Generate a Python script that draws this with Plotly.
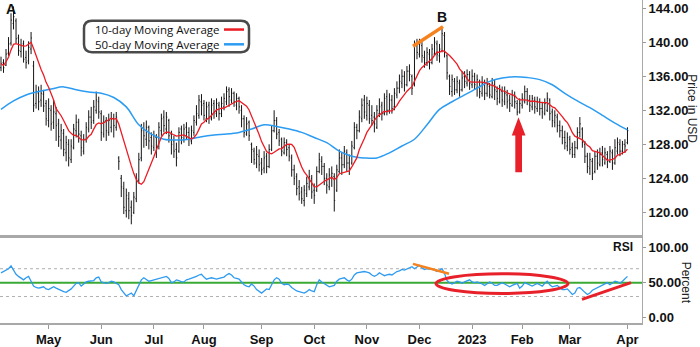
import pandas as pd
import plotly.graph_objects as go

# ---- trading calendar (NYSE holidays removed) ----
holidays = ["2022-04-15", "2022-05-30", "2022-06-20", "2022-07-04", "2022-09-05",
            "2022-11-24", "2022-12-26", "2023-01-02", "2023-01-16", "2023-02-20"]
days = pd.bdate_range("2022-04-04", "2023-04-03")
days = days[~days.isin(pd.to_datetime(holidays))]
dates = [d.strftime("%Y-%m-%d") for d in days]

# ---- daily price bars ----
opens = [
    137.0, 137.6, 137.3, 138.7, 139.9, 142.2, 142.5, 140.5, 138.9, 139.8,
    138.2, 137.8, 139.2, 137.2, 132.8, 134.0, 133.2, 133.9, 132.8, 130.8,
    132.0, 130.6, 131.6, 130.4, 128.5, 129.3, 127.0, 128.0, 126.2, 127.6,
    129.6, 130.6, 129.0, 127.2, 128.6, 129.8, 131.2, 130.8, 132.0, 133.0,
    131.6, 129.2, 130.8, 129.4, 130.0, 131.0, 130.0, 126.4, 124.0, 122.8,
    120.2, 121.6, 120.6, 120.0, 121.6, 123.8, 126.4, 129.8, 128.6, 130.0,
    128.8, 127.6, 128.8, 127.8, 129.6, 131.2, 129.8, 130.8, 129.2, 128.4,
    127.4, 127.2, 129.8, 128.6, 130.0, 129.4, 128.4, 129.4, 130.6, 131.4,
    133.0, 132.8, 131.0, 132.6, 131.0, 132.8, 131.6, 132.6, 131.6, 132.4,
    133.0, 134.4, 133.2, 134.0, 132.6, 133.4, 132.0, 131.0, 129.2, 130.6,
    128.0, 127.2, 125.8, 126.6, 125.8, 125.2, 126.6, 125.4, 127.4, 129.6,
    130.8, 129.4, 128.6, 127.0, 128.2, 127.6, 126.4, 125.0, 124.2, 123.0,
    122.4, 121.4, 122.2, 123.0, 124.0, 122.6, 122.6, 124.8, 126.0, 125.4,
    124.0, 123.0, 124.2, 124.2, 122.6, 124.8, 126.4, 125.6, 127.0, 125.8,
    125.8, 127.6, 130.0, 129.6, 131.0, 133.2, 131.4, 132.6, 131.4, 131.2,
    130.0, 131.6, 132.6, 131.6, 133.6, 132.0, 133.2, 132.4, 133.8, 134.6,
    135.2, 136.0, 135.0, 136.6, 136.0, 135.0, 139.6, 138.6, 139.6, 138.2,
    137.6, 138.6, 137.6, 138.6, 139.8, 138.4, 139.0, 140.8, 138.4, 136.0,
    134.2, 135.4, 134.4, 135.2, 134.4, 136.0, 135.2, 136.2, 135.0, 136.0,
    134.6, 135.4, 134.0, 135.2, 134.0, 134.8, 133.6, 135.0, 134.2, 133.0,
    134.2, 133.0, 133.8, 133.2, 132.6, 133.6, 132.8, 131.8, 132.6, 133.0,
    134.2, 133.2, 132.4, 133.2, 132.2, 133.0, 132.2, 131.6, 132.0, 133.2,
    131.8, 130.6, 131.2, 130.2, 129.6, 128.8, 127.8, 128.6, 127.6, 126.8,
    127.6, 129.4, 129.8, 128.0, 126.6, 125.2, 126.0, 124.8, 126.6, 125.6,
    127.0, 125.8, 126.8, 126.0, 127.0, 125.8, 127.2, 128.0, 127.2, 128.0,
    128.2,
]
highs = [
    138.3, 138.0, 139.2, 140.6, 143.4, 144.2, 142.8, 140.9, 140.4, 140.2,
    139.0, 140.1, 141.2, 137.8, 135.0, 134.8, 135.0, 134.4, 133.2, 133.4,
    132.6, 133.2, 132.4, 131.0, 130.4, 129.8, 129.0, 128.6, 128.6, 130.4,
    131.5, 131.0, 129.6, 129.2, 130.6, 132.0, 132.4, 133.2, 134.2, 133.6,
    132.0, 131.4, 131.2, 131.6, 131.8, 131.6, 131.8, 126.6, 124.4, 123.6,
    122.8, 122.4, 121.4, 122.4, 124.6, 127.0, 130.4, 130.6, 130.8, 130.2,
    129.4, 129.6, 129.2, 130.6, 131.6, 132.0, 131.8, 131.0, 129.6, 129.0,
    128.2, 130.0, 130.2, 130.4, 130.6, 130.0, 130.2, 131.4, 132.6, 133.8,
    133.9, 133.2, 133.0, 133.0, 133.4, 133.2, 133.4, 133.0, 133.6, 134.0,
    134.8, 134.7, 134.6, 134.2, 134.0, 133.6, 132.6, 131.4, 131.2, 130.8,
    128.2, 127.6, 127.8, 127.4, 126.4, 127.2, 127.0, 128.0, 130.2, 132.0,
    131.2, 129.8, 128.8, 128.8, 128.6, 128.0, 126.8, 125.6, 124.6, 123.8,
    123.0, 123.2, 124.2, 125.0, 124.4, 123.4, 125.4, 127.0, 126.6, 125.8,
    124.6, 125.2, 125.4, 124.6, 125.6, 127.4, 127.0, 127.8, 127.4, 126.8,
    128.4, 130.6, 130.4, 132.0, 133.4, 133.8, 133.6, 133.2, 132.6, 131.8,
    132.6, 133.4, 133.0, 134.0, 134.4, 134.0, 133.8, 134.6, 135.4, 136.2,
    136.8, 136.6, 137.2, 137.4, 136.2, 140.2, 140.4, 140.4, 140.0, 139.0,
    139.4, 139.2, 139.8, 140.6, 140.2, 139.8, 141.6, 141.2, 138.6, 136.2,
    136.2, 135.8, 136.0, 135.6, 136.6, 136.6, 136.8, 136.6, 136.8, 136.4,
    136.2, 135.6, 136.0, 135.6, 135.8, 135.2, 135.8, 135.6, 134.8, 135.0,
    134.8, 134.8, 134.4, 133.8, 134.4, 134.2, 133.2, 133.4, 134.0, 134.9,
    134.6, 133.8, 133.8, 133.6, 133.6, 133.4, 133.0, 133.4, 134.1, 133.4,
    132.2, 132.0, 131.6, 130.8, 130.2, 129.6, 129.4, 129.0, 128.2, 128.4,
    130.0, 131.2, 130.0, 128.4, 127.0, 127.0, 126.4, 127.2, 127.4, 127.6,
    127.8, 127.6, 127.2, 127.8, 127.4, 128.6, 128.8, 128.6, 128.4, 128.6,
    130.0,
]
lows = [
    136.6, 136.4, 137.2, 138.4, 139.6, 141.5, 139.9, 138.4, 138.2, 137.6,
    136.9, 137.4, 138.6, 131.8, 132.2, 132.0, 132.4, 131.8, 130.2, 130.0,
    129.6, 129.8, 128.4, 127.7, 127.4, 126.6, 126.0, 125.4, 125.8, 127.4,
    128.8, 128.2, 126.6, 126.8, 128.2, 129.4, 129.8, 130.4, 131.6, 131.0,
    128.4, 128.8, 128.4, 129.0, 129.4, 128.8, 129.6, 125.0, 121.8, 119.8,
    119.4, 119.2, 118.6, 119.8, 121.2, 123.4, 126.0, 127.6, 127.8, 127.4,
    126.8, 127.2, 126.4, 127.4, 129.0, 129.4, 129.2, 128.2, 126.8, 126.4,
    125.4, 127.0, 128.0, 128.2, 128.6, 127.8, 128.0, 129.0, 130.2, 131.0,
    131.4, 130.8, 130.6, 130.4, 130.8, 131.0, 131.2, 130.8, 131.2, 132.0,
    132.6, 132.4, 132.8, 132.4, 132.0, 131.6, 130.0, 128.8, 129.0, 128.4,
    125.8, 125.6, 125.2, 124.8, 124.4, 124.6, 124.6, 125.2, 127.2, 129.4,
    128.6, 127.8, 126.6, 126.8, 126.6, 126.0, 124.2, 123.2, 122.0, 121.4,
    121.0, 120.7, 121.8, 122.6, 121.6, 121.0, 122.4, 124.6, 124.4, 123.2,
    122.2, 122.6, 123.0, 120.1, 122.4, 124.6, 124.4, 125.2, 124.8, 124.4,
    125.6, 127.4, 128.6, 129.4, 130.6, 131.0, 130.8, 130.4, 130.2, 129.4,
    129.8, 131.2, 130.8, 131.4, 131.4, 131.6, 131.6, 132.0, 133.4, 134.0,
    134.6, 134.2, 134.8, 135.4, 133.8, 134.8, 138.0, 138.2, 137.6, 137.0,
    137.2, 136.8, 137.4, 138.4, 137.8, 137.6, 138.8, 138.2, 135.6, 133.8,
    133.6, 133.8, 134.0, 133.6, 134.2, 134.6, 134.8, 134.4, 134.6, 134.4,
    133.6, 133.4, 133.6, 133.2, 133.6, 133.4, 133.4, 133.2, 132.6, 132.8,
    132.4, 132.6, 132.2, 131.8, 132.4, 132.2, 131.4, 131.6, 132.2, 132.8,
    132.6, 131.8, 132.0, 131.6, 131.8, 131.4, 131.0, 131.4, 131.8, 130.8,
    130.0, 130.0, 129.4, 128.8, 128.0, 127.4, 127.2, 126.8, 126.4, 126.4,
    127.4, 128.8, 127.6, 125.8, 124.6, 124.4, 123.8, 124.6, 125.0, 125.4,
    125.4, 125.6, 125.2, 125.8, 125.0, 125.6, 126.8, 126.6, 126.8, 127.0,
    128.0,
]
closes = [
    137.5, 137.0, 138.6, 139.8, 142.6, 143.0, 140.4, 139.0, 139.6, 138.0,
    137.6, 139.4, 140.5, 132.6, 134.2, 133.0, 134.0, 132.5, 131.0, 132.2,
    130.4, 131.8, 130.2, 128.9, 129.6, 127.4, 128.2, 126.4, 127.8, 129.8,
    130.6, 129.2, 127.6, 128.6, 130.0, 131.2, 130.6, 132.4, 133.2, 131.8,
    129.4, 130.6, 129.6, 130.8, 131.0, 130.2, 131.2, 126.0, 123.0, 120.6,
    122.0, 120.2, 119.6, 121.8, 124.0, 126.2, 129.6, 129.0, 130.0, 128.4,
    127.8, 129.0, 127.6, 130.0, 131.0, 130.2, 131.2, 129.0, 128.0, 127.2,
    126.4, 129.4, 128.8, 129.8, 129.4, 128.6, 129.6, 130.8, 131.6, 133.2,
    132.6, 131.4, 132.4, 131.2, 132.6, 131.8, 132.8, 131.6, 132.8, 133.4,
    134.2, 133.6, 134.0, 133.0, 133.4, 132.4, 131.0, 129.4, 130.4, 129.0,
    127.4, 126.2, 126.8, 125.6, 125.0, 126.4, 125.4, 127.4, 129.6, 130.8,
    129.2, 128.4, 127.2, 128.2, 127.4, 126.6, 125.0, 124.0, 122.8, 122.2,
    121.6, 122.6, 123.4, 124.2, 122.4, 122.0, 124.8, 126.2, 125.4, 124.0,
    123.2, 124.4, 124.6, 121.4, 125.0, 126.4, 125.6, 127.2, 125.8, 125.2,
    127.8, 130.0, 129.6, 131.2, 132.6, 131.8, 132.8, 131.0, 130.8, 130.4,
    132.0, 132.4, 131.6, 133.4, 132.0, 133.2, 132.2, 134.0, 134.6, 135.4,
    136.0, 135.0, 136.6, 136.2, 134.6, 139.6, 138.8, 139.8, 138.4, 137.6,
    138.8, 137.6, 139.2, 140.0, 138.6, 139.2, 141.0, 138.8, 136.4, 134.8,
    135.6, 134.4, 135.4, 134.4, 135.8, 135.4, 136.2, 135.2, 136.0, 135.0,
    135.6, 134.2, 135.2, 134.0, 135.0, 133.8, 135.2, 134.4, 133.4, 134.4,
    133.2, 134.0, 133.0, 132.8, 133.8, 133.0, 131.8, 132.8, 133.4, 134.2,
    133.2, 132.6, 133.4, 132.4, 133.0, 132.2, 131.8, 132.8, 133.4, 131.6,
    130.8, 131.4, 130.2, 129.6, 128.8, 128.2, 128.8, 127.4, 126.8, 127.6,
    129.4, 130.4, 128.2, 126.6, 125.4, 126.2, 124.6, 126.6, 125.8, 126.8,
    126.2, 127.0, 126.0, 127.2, 125.8, 127.6, 128.2, 127.2, 128.0, 127.8,
    129.6,
]

# ---- 50-day moving average, one reading per week ----
ma50_dates = dates[::5]
ma50_values = [
    132.1, 133.1, 133.8, 134.2, 134.5, 134.75, 134.4, 134.15, 134.0, 133.5,
    132.4, 130.3, 129.2, 128.6, 128.5, 128.6, 128.9, 129.1, 129.2, 129.4,
    129.8, 130.3, 130.1, 129.8, 129.4, 128.8, 128.2, 127.2, 126.6, 126.4,
    126.4, 127.0, 127.8, 128.6, 130.3, 132.1, 133.0, 133.8, 134.6, 135.4,
    135.8, 135.95, 135.85, 135.6, 135.0, 134.0, 133.1, 132.3, 131.4, 130.5,
    129.7,
]

# ---- RSI (percent) ----
rsi = [
    64, 66, 68, 70, 74, 67, 62, 59, 56, 54,
    57, 59, 52, 45, 43, 42, 43, 44, 41, 40,
    42, 44, 42, 40, 38, 37, 36, 38, 41, 45,
    49, 50, 45, 48, 51, 52, 53, 53, 57, 58,
    51, 50, 49, 50, 52, 51, 49, 47, 40, 35,
    31, 33, 35, 31, 38, 45, 54, 57, 54, 52,
    53, 54, 55, 56, 57, 58, 59, 56, 50, 51,
    54, 53, 51, 51, 54, 55, 56, 57, 59, 61,
    62, 58, 55, 56, 57, 56, 55, 56, 57, 58,
    61, 63, 61, 57, 56, 55, 51, 47, 45, 44,
    48, 45, 40, 37, 35, 38, 41, 40, 47, 54,
    57, 55, 49, 47, 48, 47, 43, 40, 38, 37,
    36, 35, 37, 40, 38, 37, 47, 54, 51, 49,
    46, 44, 45, 46, 52, 55, 56, 57, 54, 52,
    55, 61, 64, 65, 66, 66, 65, 64, 61, 59,
    61, 64, 62, 60, 61, 62, 61, 64, 66, 67,
    69, 68, 70, 72, 73, 70, 72, 75, 71, 69,
    70, 70, 69, 68, 66, 68, 70, 63, 53, 50,
    48, 50, 52, 51, 49, 51, 53, 54, 51, 50,
    51, 50, 48, 46, 48, 51, 49, 46, 46, 48,
    50, 48, 46, 44, 46, 48, 49, 42, 45, 50,
    48, 46, 45, 47, 49, 47, 45, 49, 52, 47,
    44, 45, 46, 43, 40, 40, 41, 37, 33, 35,
    42, 43, 39, 36, 33, 35, 39, 41, 42, 44,
    46, 48, 50, 47, 49, 52, 51, 49, 52, 55,
    59,
]

month_ticks = ["2022-05-02", "2022-06-01", "2022-07-01", "2022-08-01", "2022-09-01",
               "2022-10-03", "2022-11-01", "2022-12-01", "2023-01-03", "2023-02-01",
               "2023-03-01", "2023-04-03"]
month_labels = ["May", "Jun", "Jul", "Aug", "Sep", "Oct", "Nov", "Dec", "2023",
                "Feb", "Mar", "Apr"]

ma10 = pd.Series(closes).rolling(10, min_periods=1).mean().round(2).tolist()

# ---- geometry helpers (plot area is 642 x 328 px) ----
W, H = 642.0, 328.0
def px(x):
    return x / W
def py(y):
    return 1 - y / H

RED = "#ec1c24"
BLUE = "#2b9cf2"
ORANGE = "#f5821f"
GREEN = "#3aaa35"
BOLD = "Liberation Sans, Arial, sans-serif"

fig = go.Figure()
fig.add_trace(go.Ohlc(
    x=dates, open=opens, high=highs, low=lows, close=closes,
    increasing=dict(line=dict(color="#151515", width=1)),
    decreasing=dict(line=dict(color="#151515", width=1)),
    tickwidth=0.35, xaxis="x", yaxis="y", showlegend=False,
))
fig.add_trace(go.Scatter(
    x=ma50_dates, y=ma50_values, mode="lines", line=dict(color=BLUE, width=1.5, shape="spline"),
    xaxis="x", yaxis="y", showlegend=False,
))
fig.add_trace(go.Scatter(
    x=dates, y=ma10, mode="lines", line=dict(color=RED, width=1.3),
    xaxis="x", yaxis="y", showlegend=False,
))
fig.add_trace(go.Scatter(
    x=dates, y=rsi, mode="lines", line=dict(color="#2e9bf0", width=1.3),
    xaxis="x2", yaxis="y2", showlegend=False,
))

shapes = []
# RSI reference levels
shapes.append(dict(type="line", xref="x2 domain", yref="y2", x0=0, x1=1, y0=70, y1=70,
                   line=dict(color="#b0b0b0", width=1, dash="dot"), layer="below"))
shapes.append(dict(type="line", xref="x2 domain", yref="y2", x0=0, x1=1, y0=30, y1=30,
                   line=dict(color="#b0b0b0", width=1, dash="dot"), layer="below"))
shapes.append(dict(type="line", xref="x2 domain", yref="y2", x0=0, x1=1, y0=50, y1=50,
                   line=dict(color=GREEN, width=2), layer="below"))

# legend box with rounded corners
def rounded_rect(x0, y0, x1, y1, r):
    pts = [
        ("M", [(x0 + r, y0)]), ("L", [(x1 - r, y0)]), ("Q", [(x1, y0), (x1, y0 + r)]),
        ("L", [(x1, y1 - r)]), ("Q", [(x1, y1), (x1 - r, y1)]), ("L", [(x0 + r, y1)]),
        ("Q", [(x0, y1), (x0, y1 - r)]), ("L", [(x0, y0 + r)]), ("Q", [(x0, y0), (x0 + r, y0)]),
    ]
    out = ""
    for cmd, ps in pts:
        out += cmd + " " + " ".join(f"{px(a):.5f},{py(b):.5f}" for a, b in ps) + " "
    return out + "Z"

shapes.append(dict(type="path", xref="paper", yref="paper", path=rounded_rect(84, 21, 249, 53, 8),
                   line=dict(color="#4a4a4a", width=2.5), fillcolor="white"))
shapes.append(dict(type="line", xref="paper", yref="paper", x0=px(224), x1=px(244), y0=py(30), y1=py(30),
                   line=dict(color=RED, width=2.5)))
shapes.append(dict(type="line", xref="paper", yref="paper", x0=px(224), x1=px(244), y0=py(45), y1=py(45),
                   line=dict(color=BLUE, width=2.5)))

# price-panel markup: rising highs at B
shapes.append(dict(type="line", xref="paper", yref="paper", x0=px(413), y0=py(47), x1=px(443), y1=py(27),
                   line=dict(color=ORANGE, width=3.5)))
# red arrow under the February low
arrow = [(518.5, 119), (525.5, 137.5), (522, 137.5), (522, 175), (515.3, 175), (515.3, 137.5), (511.8, 137.5)]
shapes.append(dict(type="path", xref="paper", yref="paper",
                   path="M " + " L ".join(f"{px(a):.5f},{py(b):.5f}" for a, b in arrow) + " Z",
                   fillcolor="#e8202a", line=dict(width=0)))
# RSI markup
shapes.append(dict(type="line", xref="paper", yref="paper", x0=px(413), y0=py(268), x1=px(449), y1=py(278),
                   line=dict(color=ORANGE, width=2.5)))
shapes.append(dict(type="circle", xref="paper", yref="paper", x0=px(436), x1=px(568), y0=py(298), y1=py(278),
                   line=dict(color="#e8202a", width=3)))
shapes.append(dict(type="line", xref="paper", yref="paper", x0=px(582), y0=py(304), x1=px(631), y1=py(287),
                   line=dict(color="#e8202a", width=3)))

annotations = [
    dict(text="10-day Moving Average", x=px(221), y=py(30), xref="paper", yref="paper",
         xanchor="right", yanchor="middle", showarrow=False,
         font=dict(family="Open Sans, sans-serif", size=11.5, color="#111")),
    dict(text="50-day Moving Average", x=px(221), y=py(45), xref="paper", yref="paper",
         xanchor="right", yanchor="middle", showarrow=False,
         font=dict(family="Open Sans, sans-serif", size=11.5, color="#111")),
    dict(text="A", x=px(11), y=py(9), xref="paper", yref="paper", showarrow=False,
         xanchor="center", yanchor="middle", font=dict(family=BOLD, size=14, color="#111", weight="bold")),
    dict(text="B", x=px(442), y=py(17.5), xref="paper", yref="paper", showarrow=False,
         xanchor="center", yanchor="middle", font=dict(family=BOLD, size=14, color="#111", weight="bold")),
    dict(text="RSI", x=px(623), y=py(251), xref="paper", yref="paper", showarrow=False,
         xanchor="center", yanchor="middle", font=dict(family=BOLD, size=12, color="#111", weight="bold")),
    dict(text="Price in USD", x=px(692), y=py(111), xref="paper", yref="paper", showarrow=False,
         textangle=90, xanchor="center", yanchor="middle",
         font=dict(family=BOLD, size=12, color="#222")),
    dict(text="Percent", x=px(686), y=py(287), xref="paper", yref="paper", showarrow=False,
         textangle=90, xanchor="center", yanchor="middle",
         font=dict(family=BOLD, size=12, color="#222")),
]

tickfont = dict(family=BOLD, size=13, color="#111", weight="bold")
xcommon = dict(type="category", categoryorder="array", categoryarray=dates,
               range=[-0.4, 255.8], showgrid=False, zeroline=False)

fig.update_layout(
    width=700, height=347,
    margin=dict(l=0, r=58, t=0, b=19, pad=0),
    paper_bgcolor="white", plot_bgcolor="white",
    showlegend=False,
    xaxis=dict(**xcommon, domain=[0, 1], anchor="y", showticklabels=False, ticks="",
               showline=True, linecolor="#a8a8a8", linewidth=3,
               rangeslider=dict(visible=False)),
    xaxis2=dict(**xcommon, domain=[0, 1], anchor="y2", matches="x",
                tickmode="array", tickvals=month_ticks, ticktext=month_labels,
                ticks="outside", ticklen=4, tickcolor="#999", tickfont=tickfont,
                showline=True, linecolor="#a8a8a8", linewidth=1.5),
    yaxis=dict(domain=[1 - 239 / H, 1], anchor="x", side="right", range=[117.30, 144.96],
               tickmode="linear", tick0=120, dtick=4, tickformat=".2f",
               ticks="outside", ticklen=3, tickcolor="#999", tickfont=tickfont,
               showline=True, linecolor="#a8a8a8", linewidth=1, showgrid=False, zeroline=False),
    yaxis2=dict(domain=[0, 1 - 240 / H], anchor="x2", side="right", range=[-8.07, 116.6],
                tickmode="array", tickvals=[0, 50, 100], tickformat=".2f",
                ticks="outside", ticklen=3, tickcolor="#999", tickfont=tickfont,
                showline=True, linecolor="#a8a8a8", linewidth=1, showgrid=False, zeroline=False),
    shapes=shapes,
    annotations=annotations,
)

fig.write_html("out.html")
